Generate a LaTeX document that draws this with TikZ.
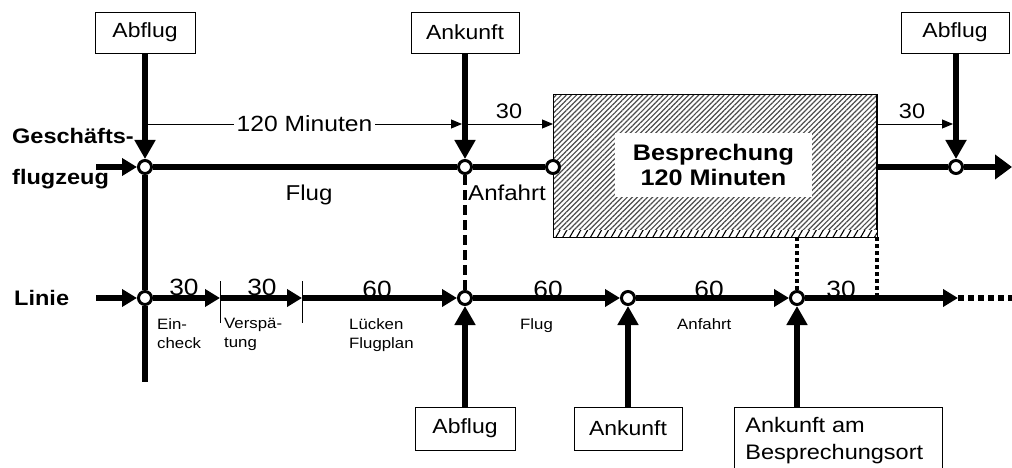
\documentclass[tikz,border=0pt]{standalone}
\usepackage{fontspec}
\setmainfont[FakeStretch=1.12]{Liberation Sans}
\usetikzlibrary{arrows.meta,patterns.meta,calc}
\newcommand\myfs[2]{\fontsize{#1}{#2}\selectfont}
\tikzset{
  box/.style={draw, line width=0.8pt, inner sep=0pt, minimum height=41pt, font=\myfs{20.5}{24}},
  circ/.style={circle, draw, fill=white, line width=3pt, minimum size=13pt, inner sep=0pt},
  thickline/.style={line width=6pt},
  varrow/.style={-{Triangle[length=19pt,width=20pt]}},
  harrow/.style={-{Triangle[length=15pt,width=17pt]}},
  endarrow/.style={-{Triangle[length=17pt,width=24pt]}},
  thinarrow/.style={line width=0.9pt, -{Triangle[length=11pt,width=9pt]}},
  thinline/.style={line width=0.9pt},
  num/.style={font=\myfs{21}{24}, inner sep=0pt},
  bignum/.style={font=\myfs{23.5}{26}, inner sep=0pt},
  lab/.style={font=\myfs{21.5}{24}, inner sep=0pt},
  small/.style={font=\myfs{15}{19}, inner sep=0pt, align=left, anchor=north west},
  boldlab/.style={font=\bfseries\myfs{21}{24}, inner sep=0pt, anchor=base west},
}
\begin{document}
\begin{tikzpicture}[x=1pt,y=-1pt]
\useasboundingbox (0,0) rectangle (1012,468);

% hatched meeting block
\node[draw, line width=0.8pt, anchor=north west, minimum width=323pt, minimum height=142pt,
  pattern={Lines[angle=45,distance=3.6pt,line width=1.2pt]}, pattern color=black!70] (besp) at (553,94) {};
\fill[white] ([yshift=0.4pt]besp.south west) rectangle ([yshift=7pt]besp.south east);
\fill[pattern={Lines[angle=60,distance=6pt,line width=1.1pt]}, pattern color=black]
  ([yshift=0.4pt]besp.south west) rectangle ([yshift=7pt]besp.south east);
\draw[line width=0.8pt] (besp.south west) rectangle (besp.north east);
\node[fill=white, minimum width=197pt, minimum height=64pt, inner sep=0pt, align=center,
  font=\bfseries\myfs{22.5}{25}] (bespt) at (713.5,165) {Besprechung\\120 Minuten};

% nodes on the lines
\node[circ] (cG1) at (145,167) {};
\node[circ] (cG2) at (465,167) {};
\node[circ] (cG3) at (553,167) {};
\node[circ] (cG4) at (956,167) {};
\node[circ] (cL1) at (145,298) {};
\node[circ] (cL2) at (465,298) {};
\node[circ] (cL3) at (628,298) {};
\node[circ] (cL4) at (797,298) {};
\coordinate (k1) at (220,298);
\coordinate (k2) at (302,298);
\coordinate (le) at (958,298);
\coordinate (lend) at (1012,298);
\coordinate (gend) at (1012,167);
\coordinate (gin) at (96,167);
\coordinate (lin) at (96,298);
\coordinate (vbot) at (145,382);

% boxes
\node[box, minimum width=100pt] (tA) at (145,32.5) {Abflug};
\node[box, minimum width=108pt] (tK) at (465,32.5) {Ankunft};
\node[box, minimum width=108pt] (tA2) at (955,32.5) {Abflug};
\node[box, minimum width=100pt, minimum height=43pt] (bA) at (465,428.5) {Abflug};
\node[box, minimum width=108pt, minimum height=43pt] (bK) at (628,428.5) {Ankunft};
\node[box, anchor=north west, minimum width=207pt, minimum height=67pt, align=left,
  text width=186pt, inner xsep=11pt, font=\myfs{21}{27}] (bB) at (734,407)
  {Ankunft am\\Besprechungsort};

% top (business jet) line
\draw[thickline] (cG1) -- (cG2);
\draw[thickline] (cG2) -- (cG3);
\draw[thickline] (besp.east |- cG4) -- (cG4);
\draw[thickline, endarrow] (cG4) -- (gend);
\draw[thickline, harrow] (gin) -- (cG1);
\draw[thickline, varrow] (tA) -- (cG1);
\draw[thickline, varrow] (tK) -- (cG2);
\draw[thickline, varrow] (tA2.south -| cG4) -- (cG4);
\draw[thickline] (cG1) -- (cL1);
\draw[thickline] (cL1) -- (vbot);

% time spans on top
\node[num, font=\myfs{22}{24}, inner xsep=2.5pt] (min) at (304.5,124) {120 Minuten};
\coordinate (m0) at (148,124);
\draw[thinline] (m0) -- (min);
\draw[thinarrow] (min) -- ([xshift=-3pt]cG2 |- min);
\draw[thinarrow] ([xshift=3pt]cG2 |- min) -- (besp.west |- min);
\draw[thinarrow] (besp.east |- min) -- ([xshift=-3pt]cG4 |- min);
\node[num, anchor=base] (t30a) at (509,119) {30};
\node[num, anchor=base] (t30b) at (912,119) {30};

\node[lab, anchor=base] (flugT) at (309,200) {Flug};
\node[lab, anchor=base west] (anfT) at (468,200) {Anfahrt};

% dashed / dotted connections
\draw[line width=4pt, dash pattern=on 10pt off 5pt] (cG2) -- (cL2);
\draw[line width=4pt, dash pattern=on 4pt off 3pt] (besp.south -| cL4) -- (cL4);
\draw[line width=4pt, dash pattern=on 4pt off 3pt] (besp.south east) -- (besp.south east |- cL1);

% bottom (scheduled) line
\draw[thickline, harrow] (lin) -- (cL1);
\draw[thickline, harrow] (cL1) -- (k1);
\draw[thickline, harrow] (k1) -- (k2);
\draw[thickline, harrow] (k2) -- (cL2);
\draw[thickline, harrow] (cL2) -- (cL3);
\draw[thickline, harrow] (cL3) -- (cL4);
\draw[thickline, harrow] (cL4) -- (le);
\draw[line width=6pt, dash pattern=on 6pt off 4pt] (le) -- (lend);
\draw[line width=0.8pt] ([yshift=17pt]k1) -- ([yshift=-25pt]k1);
\draw[line width=0.8pt] ([yshift=17pt]k2) -- ([yshift=-25pt]k2);

\draw[thickline, varrow] (bA) -- (cL2);
\draw[thickline, varrow] (bK) -- (cL3);
\draw[thickline, varrow] (bB.north -| cL4) -- (cL4);

% bottom labels
\node[bignum, anchor=base] at (184,295) {30};
\node[bignum, anchor=base] at (262,295) {30};
\node[bignum, anchor=base] at (377,297) {60};
\node[bignum, anchor=base] at (548,297) {60};
\node[bignum, anchor=base] at (709,297) {60};
\node[bignum, anchor=base] at (841,297) {30};

\node[small] at (157,318) {Ein-\\check};
\node[small] at (224,318) {Verspä-\\tung};
\node[small] at (349,318) {Lücken\\Flugplan};
\node[small] at (520,318) {Flug};
\node[small] at (677,318) {Anfahrt};

\node[boldlab] at (12,144) {Geschäfts-};
\node[boldlab] at (12,184) {flugzeug};
\node[boldlab] at (14,305) {Linie};
\end{tikzpicture}
\end{document}
